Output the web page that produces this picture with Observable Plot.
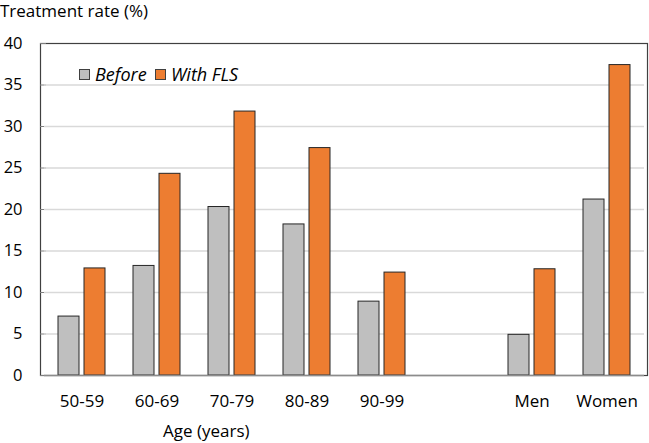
<!DOCTYPE html>
<html><head><meta charset="utf-8">
<script src="https://cdn.jsdelivr.net/npm/d3@7"></script>
<script src="https://cdn.jsdelivr.net/npm/@observablehq/plot@0.6"></script>
<style>
body{margin:0;background:#fff;font-family:"Open Sans",sans-serif;}
#wrap{position:relative;width:649px;height:443px;overflow:hidden;background:#fff;}
#wrap svg{position:absolute;left:0;top:0;}
.lbl{position:absolute;font-size:17px;line-height:17px;color:#000;white-space:nowrap;}
.leg{position:absolute;font-size:18px;line-height:18px;font-style:italic;color:#000;white-space:nowrap;}
.sw{position:absolute;width:9px;height:9px;border:1px solid #404040;}
</style>
</head><body>
<div id="wrap"></div>
<script>
const categories = ["50-59","60-69","70-79","80-89","90-99"," ","Men","Women"];
const series = ["Before","With FLS"];
const before = [7.1, 13.2, 20.3, 18.2, 8.9, null, 4.9, 21.2];
const withFLS = [12.9, 24.3, 31.8, 27.4, 12.4, null, 12.8, 37.4];
const yTicks = [0,5,10,15,20,25,30,35,40];
const gridTicks = [5,10,15,20,25,30,35];
const colors = ["#bfbfbf","#ed7d31"];

// keep every category (including the blank spacer) so each facet slot is rendered
const rows = [];
categories.forEach((c,i)=>{
  rows.push({category:c, series:series[0], value:before[i]});
  rows.push({category:c, series:series[1], value:withFLS[i]});
});

const common = {
  width:649, height:443, marginLeft:40, marginRight:2, marginTop:43, marginBottom:68,
  style:{background:"transparent", fontFamily:"Open Sans", fontSize:"17px", color:"#000", overflow:"visible"}
};

const back = Plot.plot({
  ...common,
  y:{domain:[0,40], axis:null},
  marks:[
    Plot.frame({stroke:"#404040", strokeWidth:1.2}),
    Plot.axisY(yTicks, {tickSize:-6, tickPadding:24, stroke:"#7f7f7f", fill:"#000", fontSize:16.5})
  ]
});

const front = Plot.plot({
  ...common,
  fx:{domain:categories, padding:0, label:null, axis:"bottom", tickSize:0, tickPadding:19},
  x:{domain:series, paddingInner:0.21, paddingOuter:0.5, axis:null},
  y:{domain:[0,40], axis:null},
  color:{domain:series, range:colors},
  marks:[
    Plot.ruleY(gridTicks, {stroke:"#d9d9d9", strokeWidth:1.3}),
    Plot.barY(rows, {fx:"category", x:"series", y:"value", fill:"series", stroke:"#262626", strokeWidth:1}),
    Plot.ruleY([0], {stroke:"#8c8c8c", strokeWidth:1.5})
  ]
});

const wrap = document.getElementById("wrap");
wrap.appendChild(back);
wrap.appendChild(front);

function addDiv(cls, text, left, top, extra){
  const d = document.createElement("div");
  d.className = cls;
  if (text) d.textContent = text;
  d.style.left = left + "px";
  d.style.top = top + "px";
  if (extra) Object.assign(d.style, extra);
  wrap.appendChild(d);
}
addDiv("lbl", "Treatment rate (%)", 0, 2);
addDiv("lbl", "Age (years)", 163, 422);
addDiv("sw", "", 79, 69, {background:colors[0]});
addDiv("leg", series[0], 95, 65);
addDiv("sw", "", 155, 69, {background:colors[1]});
addDiv("leg", series[1], 171, 65);
</script>
</body></html>
